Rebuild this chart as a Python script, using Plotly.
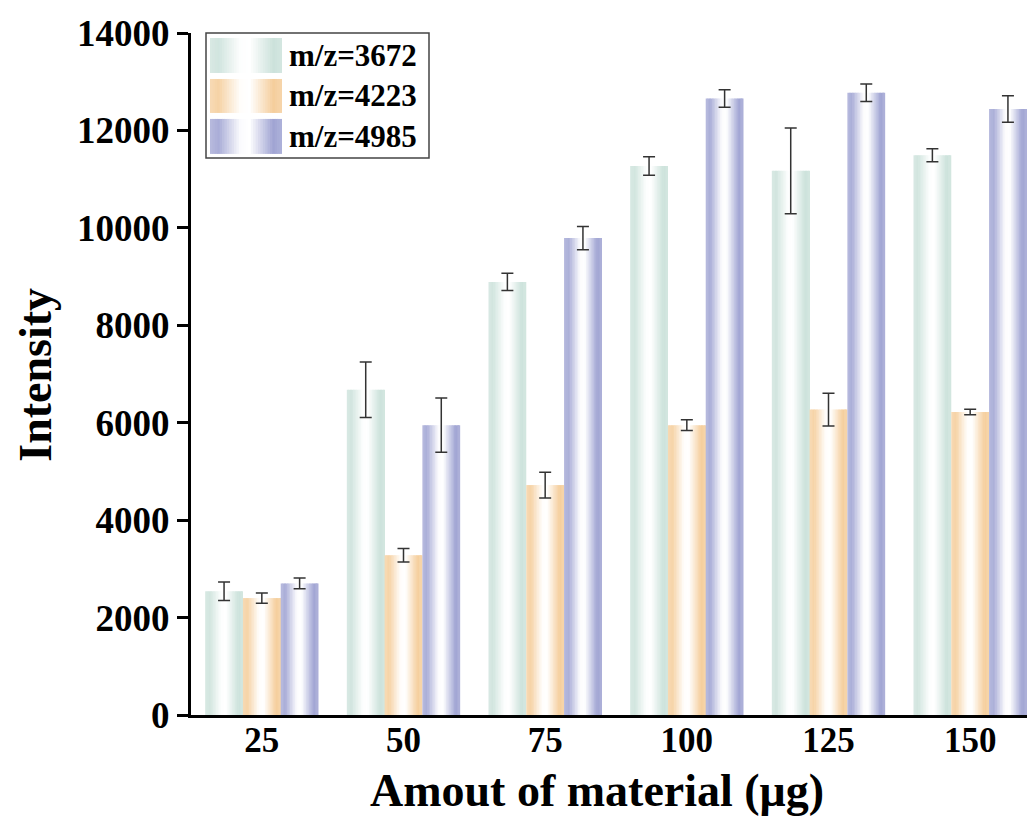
import plotly.graph_objects as go

# ---------------- data ----------------
categories = ["25", "50", "75", "100", "125", "150"]
series_names = ["m/z=3672", "m/z=4223", "m/z=4985"]
vals_3672 = [2540, 6675, 8890, 11270, 11170, 11490]
err_3672 = [190, 570, 178, 190, 880, 135]
vals_4223 = [2400, 3280, 4720, 5950, 6270, 6220]
err_4223 = [105, 140, 265, 110, 335, 55]
vals_4985 = [2700, 5950, 9790, 12655, 12775, 12440]
err_4985 = [110, 555, 240, 180, 180, 270]

values = [vals_3672, vals_4223, vals_4985]
errors = [err_3672, err_4223, err_4985]
base_colors = [(204, 226, 219), (245, 206, 156), (160, 164, 211)]

# gradient profile across a bar: (position, colour strength)
profile = [(0.0, 0.75), (0.12, 0.9), (0.42, 0.04), (0.55, 0.0), (0.88, 1.0), (1.0, 0.85)]


def strength(t):
    for (t0, s0), (t1, s1) in zip(profile[:-1], profile[1:]):
        if t0 <= t <= t1:
            return s0 + (s1 - s0) * (t - t0) / (t1 - t0)
    return profile[-1][1]


def mix(c, s):
    r, g, b = (round(255 + (ci - 255) * s) for ci in c)
    return f"rgb({r},{g},{b})"


NS = 24
group_w = 0.8
bw = group_w / len(values)
sw = bw / NS
xpos = list(range(len(categories)))

fig = go.Figure()
for i, (vals, errs, col) in enumerate(zip(values, errors, base_colors)):
    left = -group_w / 2 + i * bw
    for k in range(NS):
        t = (k + 0.5) / NS
        w = sw * 1.35 if k < NS - 1 else sw
        fig.add_trace(go.Bar(
            x=xpos, y=vals, offset=left + k * sw, width=w,
            marker=dict(color=mix(col, strength(t)), line=dict(width=0)),
            showlegend=False, hoverinfo="skip"))
    fig.add_trace(go.Scatter(
        x=[p + left + bw / 2 for p in xpos], y=vals, mode="markers",
        marker=dict(size=1, color="rgba(0,0,0,0)"),
        error_y=dict(type="data", array=errs, color="#333333", thickness=1.5, width=6),
        showlegend=False, name=series_names[i]))

# ---------------- layout geometry (page has an 8px body margin) ----------------
W, H = 1035, 827
OFF = 8
PL, PR, PT, PB = 191, 1041, 33, 715.5          # plot area in page pixels
L, T = PL - OFF, PT - OFF
R = W - (PR - OFF)
B = H - (PB - OFF)
pw, ph = PR - PL, PB - PT


def px_x(x):
    return (x - PL) / pw


def px_y(y):
    return (PB - y) / ph


shapes = []
annotations = []
shapes.append(dict(type="rect", xref="paper", yref="paper",
                   x0=px_x(206), x1=px_x(429), y0=px_y(158), y1=px_y(33),
                   fillcolor="white", line=dict(color="#444444", width=1.5), layer="above"))
rows = [(38, 73), (79, 113), (119, 154)]
sx0, sx1 = 210, 282
for (y0, y1), col, name in zip(rows, base_colors, series_names):
    n = 30
    for k in range(n):
        t = (k + 0.5) / n
        xa = sx0 + (sx1 - sx0) * k / n
        xb = sx0 + (sx1 - sx0) * (k + 1.3) / n if k < n - 1 else sx1
        shapes.append(dict(type="rect", xref="paper", yref="paper",
                           x0=px_x(xa), x1=px_x(xb), y0=px_y(y1), y1=px_y(y0),
                           fillcolor=mix(col, strength(t)), line=dict(width=0), layer="above"))
    annotations.append(dict(xref="paper", yref="paper", x=px_x(287), y=px_y((y0 + y1) / 2),
                            text=f"<b>{name}</b>", showarrow=False, xanchor="left", yanchor="middle",
                            font=dict(family="Liberation Serif", size=31, color="black")))

# axis titles
annotations.append(dict(xref="paper", yref="paper", x=px_x(597), y=px_y(791),
                        text="<b>Amout of material (μg)</b>", showarrow=False,
                        xanchor="center", yanchor="middle",
                        font=dict(family="Liberation Serif", size=46, color="black")))
annotations.append(dict(xref="paper", yref="paper", x=px_x(36), y=px_y(375),
                        text="<b>Intensity</b>", showarrow=False, textangle=-90,
                        xanchor="center", yanchor="middle",
                        font=dict(family="Liberation Serif", size=46, color="black")))

fig.update_layout(
    width=W, height=H,
    margin=dict(l=L, r=R, t=T, b=B),
    barmode="overlay",
    plot_bgcolor="white", paper_bgcolor="white",
    shapes=shapes, annotations=annotations,
    font=dict(family="Liberation Serif", color="black"),
    xaxis=dict(
        range=[-0.5, 5.5], tickvals=xpos, ticktext=[f"<b>{c}</b>" for c in categories],
        tickfont=dict(size=35, family="Liberation Serif"),
        showline=True, linecolor="black", linewidth=3, ticks="", showgrid=False,
        zeroline=False, ticklabelstandoff=-8,
    ),
    yaxis=dict(
        range=[0, 14000], tickvals=list(range(0, 14001, 2000)),
        ticktext=[f"<b>{v}</b>" for v in range(0, 14001, 2000)],
        tickfont=dict(size=37, family="Liberation Serif"),
        showline=True, linecolor="black", linewidth=3, ticks="outside", ticklen=11,
        tickwidth=3, tickcolor="black", showgrid=False, zeroline=False,
    ),
)

fig.write_html("out.html")
